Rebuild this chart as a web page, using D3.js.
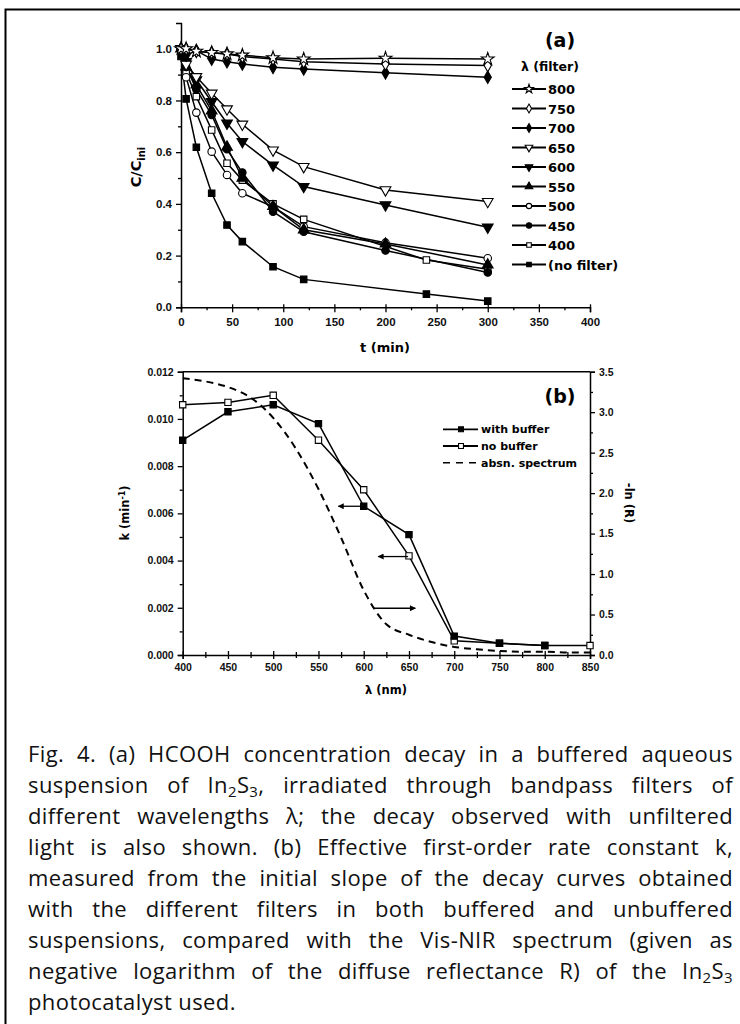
<!DOCTYPE html>
<html lang="en">
<head>
<meta charset="UTF-8">
<title>Fig. 4</title>
<script src="https://d3js.org/d3.v7.min.js"></script>
<style>
    body { margin: 0; background: #fff; }
    svg { font-family: "DejaVu Sans", Arial, sans-serif; }
    .tick text { font-weight: bold; }
    .caption { font-family: "Open Sans", sans-serif; font-size: 22px; letter-spacing: 0.4px; fill: #111; }
</style>
</head>
<body>
<script>
// ---- panel (a): C/Cini vs t ----
const seriesA = ["800", "750", "700", "650", "600", "550", "500", "450", "400", "(no filter)"];
const timesA = [0, 5, 15, 30, 45, 60, 90, 120, 200, 300];
const times400 = [0, 5, 15, 30, 45, 60, 90, 120, 240, 300];
const timesNoFilter = [0, 5, 15, 30, 45, 60, 90, 120, 240, 300];
const c800 = [1.0, 1.0, 0.99, 0.985, 0.98, 0.975, 0.965, 0.96, 0.963, 0.96];
const c750 = [1.0, 1.0, 0.99, 0.985, 0.98, 0.97, 0.96, 0.95, 0.941, 0.935];
const c700 = [1.0, 0.975, 0.993, 0.96, 0.95, 0.941, 0.928, 0.922, 0.907, 0.89];
const c650 = [1.0, 0.94, 0.892, 0.828, 0.767, 0.708, 0.608, 0.544, 0.454, 0.409];
const c600 = [1.0, 0.95, 0.88, 0.795, 0.712, 0.641, 0.55, 0.467, 0.396, 0.31];
const c550 = [1.0, 0.93, 0.86, 0.76, 0.62, 0.5, 0.39, 0.3, 0.245, 0.164];
const c500 = [1.0, 0.89, 0.753, 0.602, 0.512, 0.441, 0.389, 0.312, 0.25, 0.19];
const c450 = [1.0, 0.93, 0.843, 0.744, 0.611, 0.521, 0.37, 0.292, 0.22, 0.135];
const c400 = [1.0, 0.91, 0.815, 0.686, 0.557, 0.492, 0.4, 0.34, 0.183, 0.147];
const cNoFilter = [0.97, 0.806, 0.619, 0.441, 0.318, 0.254, 0.157, 0.108, 0.051, 0.024];
const ticksAx = [0, 50, 100, 150, 200, 250, 300, 350, 400];
const ticksAy = [0.0, 0.2, 0.4, 0.6, 0.8, 1.0];

// ---- panel (b): k vs wavelength ----
const lambdaK = [400, 450, 500, 550, 600, 650, 700, 750, 800, 850];
const kWithBuffer = [0.0091, 0.0103, 0.0106, 0.0098, 0.0063, 0.0051, 0.0008, 0.0005, 0.0004];
const kNoBuffer = [0.0106, 0.0107, 0.011, 0.0091, 0.007, 0.0042, 0.0006, 0.0005, 0.0004, 0.0004];
const lambdaSpec = [400, 425, 450, 475, 500, 525, 550, 575, 600, 625, 650, 675, 700, 725, 750, 775, 800, 825, 850];
const absSpec = [3.42, 3.38, 3.31, 3.18, 2.93, 2.55, 2.05, 1.45, 0.8, 0.38, 0.25, 0.16, 0.1, 0.07, 0.05, 0.04, 0.04, 0.03, 0.03];
const ticksBx = [400, 450, 500, 550, 600, 650, 700, 750, 800, 850];
const ticksBy = [0.0, 0.002, 0.004, 0.006, 0.008, 0.01, 0.012];
const ticksBr = [0.0, 0.5, 1.0, 1.5, 2.0, 2.5, 3.0, 3.5];
// arrows: [lambda from, lambda to, k]
const arrowsB = [[598, 572, 0.0063], [649, 616, 0.00417], [611, 657, 0.00198]];

const captionLines = [
    "Fig. 4. (a) HCOOH concentration decay in a buffered aqueous",
    "suspension of In|2|S|3|, irradiated through bandpass filters of",
    "different wavelengths λ; the decay observed with unfiltered",
    "light is also shown. (b) Effective first-order rate constant k,",
    "measured from the initial slope of the decay curves obtained",
    "with the different filters in both buffered and unbuffered",
    "suspensions, compared with the Vis-NIR spectrum (given as",
    "negative logarithm of the diffuse reflectance R) of the In|2|S|3|",
    "photocatalyst used."
];

const dataA = [
    [timesA, c800], [timesA, c750], [timesA, c700], [timesA, c650], [timesA, c600],
    [timesA, c550], [timesA, c500], [timesA, c450], [times400, c400], [timesNoFilter, cNoFilter]
].map(([t, c], i) => ({ name: seriesA[i], points: t.map((x, j) => ({ x, y: c[j] })) }));

// marker look per series
const markerStyle = {
    "800": { sym: d3.symbolStar, size: 50, rot: 0, fill: "#fff" },
    "750": { sym: d3.symbolDiamond, size: 45, rot: 0, fill: "#fff" },
    "700": { sym: d3.symbolDiamond, size: 45, rot: 0, fill: "#000" },
    "650": { sym: d3.symbolTriangle, size: 50, rot: 180, fill: "#fff" },
    "600": { sym: d3.symbolTriangle, size: 50, rot: 180, fill: "#000" },
    "550": { sym: d3.symbolTriangle, size: 50, rot: 0, fill: "#000" },
    "500": { sym: d3.symbolCircle, size: 44, rot: 0, fill: "#fff" },
    "450": { sym: d3.symbolCircle, size: 44, rot: 0, fill: "#000" },
    "400": { sym: d3.symbolSquare, size: 42, rot: 0, fill: "#fff" },
    "(no filter)": { sym: d3.symbolSquare, size: 42, rot: 0, fill: "#000" }
};

const svg = d3.select("body").append("svg")
    .attr("width", 740).attr("height", 1024);

// outer frame
svg.append("rect")
    .attr("x", 5.5).attr("y", 9.5).attr("width", 745).attr("height", 1030)
    .attr("fill", "none").attr("stroke", "#000").attr("stroke-width", 2);

function drawMarker(g, st, x, y, scale) {
    g.append("path")
        .attr("d", d3.symbol().type(st.sym).size(st.size * (scale || 1))())
        .attr("transform", `translate(${x},${y}) rotate(${st.rot})`)
        .attr("fill", st.fill).attr("stroke", "#000").attr("stroke-width", 1.1);
}

// ================= panel (a) =================
const xA = d3.scaleLinear().domain([0, 400]).range([181, 590]);
const yA = d3.scaleLinear().domain([0, 1.1]).range([307.3, 22.9]);

const gAax = svg.append("g");
const axA = gAax.append("g").attr("transform", "translate(0,307.3)")
    .call(d3.axisBottom(xA).tickValues(ticksAx).tickSize(5).tickPadding(6).tickFormat(d3.format("d")));
axA.selectAll(".tick line").attr("y1", -3);
gAax.append("g").attr("transform", "translate(0,307.3)")
    .call(d3.axisBottom(xA).tickValues(d3.range(25, 400, 50)).tickSize(3).tickFormat(""))
    .call(g => g.select(".domain").remove());

gAax.append("g").attr("transform", "translate(181,0)")
    .call(d3.axisLeft(yA).tickValues(ticksAy).tickSize(5).tickPadding(4).tickFormat(d3.format(".1f")));
gAax.append("g").attr("transform", "translate(181,0)")
    .call(d3.axisLeft(yA).tickValues([0.1, 0.3, 0.5, 0.7, 0.9]).tickSize(3).tickFormat(""))
    .call(g => g.select(".domain").remove());

gAax.selectAll(".domain").attr("stroke-width", 1.5);
gAax.selectAll(".tick line").attr("stroke-width", 1.3);
gAax.selectAll(".tick text").attr("font-size", 11.5).attr("fill", "#111");

svg.append("text").attr("x", 385).attr("y", 352).attr("text-anchor", "middle")
    .attr("font-size", 13).attr("font-weight", "bold").text("t (min)");

const yLabA = svg.append("text").attr("transform", "translate(141,167) rotate(-90)")
    .attr("text-anchor", "middle").attr("font-size", 14.5).attr("font-weight", "bold");
yLabA.append("tspan").text("C/C");
yLabA.append("tspan").attr("font-size", 10).attr("dy", 4).text("ini");

const lineA = d3.line().x(d => xA(d.x)).y(d => yA(d.y));
const gA = svg.append("g");
dataA.slice().reverse().forEach(s => {
    gA.append("path").attr("d", lineA(s.points))
        .attr("fill", "none").attr("stroke", "#000").attr("stroke-width", 1.5);
});
dataA.slice().reverse().forEach(s => {
    s.points.forEach(p => drawMarker(gA, markerStyle[s.name], xA(p.x), yA(p.y)));
});

// legend (a)
svg.append("text").attr("x", 560).attr("y", 47).attr("text-anchor", "middle")
    .attr("font-size", 19).attr("font-weight", "bold").text("(a)");
svg.append("text").attr("x", 550).attr("y", 71).attr("text-anchor", "middle")
    .attr("font-size", 12.5).attr("font-weight", "bold").text("λ (filter)");
seriesA.forEach((name, i) => {
    const y = 89 + i * 19.5;
    const g = svg.append("g");
    g.append("line").attr("x1", 512).attr("x2", 546).attr("y1", y).attr("y2", y)
        .attr("stroke", "#000").attr("stroke-width", 1.8);
    drawMarker(g, markerStyle[name], 529, y, 0.5);
    g.append("text").attr("x", 548).attr("y", y + 5).attr("font-size", 13)
        .attr("font-weight", "bold").text(name);
});

// ================= panel (b) =================
const xB = d3.scaleLinear().domain([400, 850]).range([182.7, 590]);
const yBL = d3.scaleLinear().domain([0, 0.012]).range([655, 371.7]);
const yBR = d3.scaleLinear().domain([0, 3.5]).range([655, 371.7]);

const gBax = svg.append("g");
const axB = gBax.append("g").attr("transform", "translate(0,655)")
    .call(d3.axisBottom(xB).tickValues(ticksBx).tickSize(4).tickPadding(5).tickFormat(d3.format("d")));
axB.selectAll(".tick line").attr("y1", -4);
gBax.append("g").attr("transform", "translate(0,655)")
    .call(d3.axisBottom(xB).tickValues(d3.range(425, 850, 50)).tickSize(3).tickFormat(""))
    .call(g => g.select(".domain").remove())
    .selectAll(".tick line").attr("y1", -3);

gBax.append("g").attr("transform", "translate(182.7,0)")
    .call(d3.axisLeft(yBL).tickValues(ticksBy).tickSize(5).tickPadding(4).tickFormat(d3.format(".3f")));
gBax.append("g").attr("transform", "translate(182.7,0)")
    .call(d3.axisLeft(yBL).tickValues([0.001, 0.003, 0.005, 0.007, 0.009, 0.011]).tickSize(3).tickFormat(""))
    .call(g => g.select(".domain").remove());

gBax.append("g").attr("transform", "translate(590,0)")
    .call(d3.axisRight(yBR).tickValues(ticksBr).tickSize(5).tickPadding(4).tickFormat(d3.format(".1f")));
gBax.append("g").attr("transform", "translate(590,0)")
    .call(d3.axisRight(yBR).tickValues([0.25, 0.75, 1.25, 1.75, 2.25, 2.75, 3.25]).tickSize(3).tickFormat(""))
    .call(g => g.select(".domain").remove());

gBax.append("line").attr("x1", 182.7).attr("x2", 590).attr("y1", 371.7).attr("y2", 371.7)
    .attr("stroke", "#000").attr("stroke-width", 1.5);

gBax.selectAll(".domain").attr("stroke-width", 1.5);
gBax.selectAll(".tick line").attr("stroke-width", 1.3);
gBax.selectAll(".tick text").attr("font-size", 10.5).attr("fill", "#111");

svg.append("text").attr("x", 386).attr("y", 694).attr("text-anchor", "middle")
    .attr("font-size", 11.5).attr("font-weight", "bold").text("λ (nm)");

const yLabB = svg.append("text").attr("transform", "translate(129,513) rotate(-90)")
    .attr("text-anchor", "middle").attr("font-size", 11.5).attr("font-weight", "bold");
yLabB.append("tspan").text("k (min");
yLabB.append("tspan").attr("font-size", 8).attr("dy", -4).text("-1");
yLabB.append("tspan").attr("dy", 4).text(")");

svg.append("text").attr("transform", "translate(625,503) rotate(90)")
    .attr("text-anchor", "middle").attr("font-size", 11.5).attr("font-weight", "bold").text("-ln (R)");

// absorption spectrum (right axis)
svg.append("path")
    .attr("d", d3.line().curve(d3.curveMonotoneX).x((d, i) => xB(lambdaSpec[i])).y(d => yBR(d))(absSpec))
    .attr("fill", "none").attr("stroke", "#000").attr("stroke-width", 2)
    .attr("stroke-dasharray", "7,5");

const lineB = d3.line().x(d => xB(d.x)).y(d => yBL(d.y));
const noBuf = kNoBuffer.map((k, i) => ({ x: lambdaK[i], y: k }));
const withBuf = kWithBuffer.map((k, i) => ({ x: lambdaK[i], y: k }));
[noBuf, withBuf].forEach(pts => {
    svg.append("path").attr("d", lineB(pts)).attr("fill", "none")
        .attr("stroke", "#000").attr("stroke-width", 1.5);
});
const sqOpen = { sym: d3.symbolSquare, size: 40, rot: 0, fill: "#fff" };
const sqFill = { sym: d3.symbolSquare, size: 40, rot: 0, fill: "#000" };
noBuf.forEach(p => drawMarker(svg, sqOpen, xB(p.x), yBL(p.y)));
withBuf.forEach(p => drawMarker(svg, sqFill, xB(p.x), yBL(p.y)));

// arrows
const defs = svg.append("defs");
defs.append("marker").attr("id", "ah").attr("viewBox", "0 0 10 10")
    .attr("refX", 9).attr("refY", 5).attr("markerWidth", 9).attr("markerHeight", 6)
    .attr("markerUnits", "userSpaceOnUse").attr("orient", "auto")
    .append("path").attr("d", "M0,0L10,5L0,10Z").attr("fill", "#000");
arrowsB.forEach(([a, b, k]) => {
    svg.append("line").attr("x1", xB(a)).attr("x2", xB(b)).attr("y1", yBL(k)).attr("y2", yBL(k))
        .attr("stroke", "#000").attr("stroke-width", 1.3).attr("marker-end", "url(#ah)");
});

// legend (b)
svg.append("text").attr("x", 560).attr("y", 403).attr("text-anchor", "middle")
    .attr("font-size", 19).attr("font-weight", "bold").text("(b)");
const legB = [["with buffer", sqFill, null], ["no buffer", sqOpen, null], ["absn. spectrum", null, "7,6"]];
legB.forEach(([label, st, dash], i) => {
    const y = 429.3 + i * 16.7;
    svg.append("line").attr("x1", 443).attr("x2", 478).attr("y1", y).attr("y2", y)
        .attr("stroke", "#000").attr("stroke-width", dash ? 1.6 : 1.8)
        .attr("stroke-dasharray", dash);
    if (st) drawMarker(svg, st, 461, y, 0.6);
    svg.append("text").attr("x", 481).attr("y", y + 4).attr("font-size", 11)
        .attr("font-weight", "bold").text(label);
});

// ================= caption =================
const capX = 28, capW = 705;
captionLines.forEach((line, i) => {
    const t = svg.append("text").attr("class", "caption")
        .attr("x", capX).attr("y", 762 + i * 31);
    line.split("|").forEach((part, j) => {
        const ts = t.append("tspan").text(part);
        if (j % 2 === 1) ts.attr("font-size", 15).attr("baseline-shift", "-4");
    });
    if (i < captionLines.length - 1) {
        const spaces = line.split(" ").length - 1;
        const w = t.node().getComputedTextLength();
        t.attr("word-spacing", (capW - w) / spaces);
    }
});
</script>
</body>
</html>
